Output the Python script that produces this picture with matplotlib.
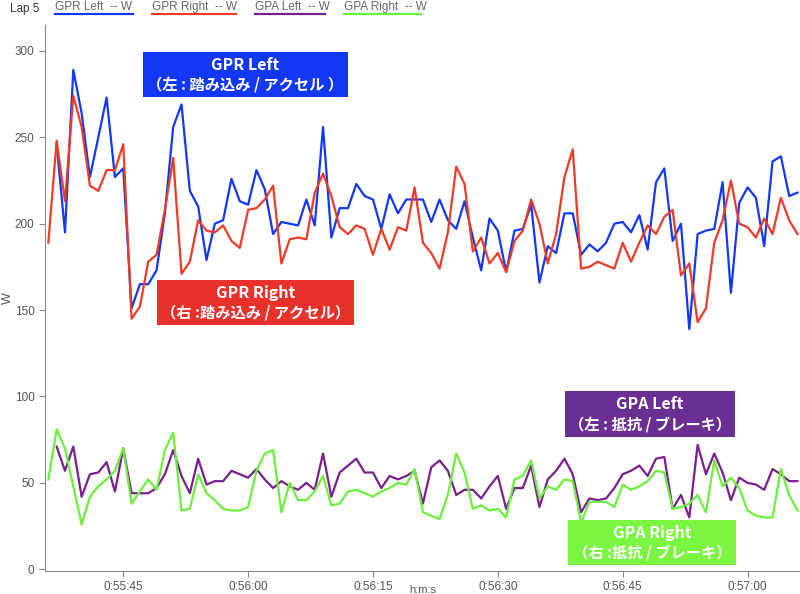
import numpy as np
import matplotlib
matplotlib.use("Agg")
import matplotlib.pyplot as plt
from matplotlib.patches import Rectangle
from matplotlib.lines import Line2D
from matplotlib.ticker import FuncFormatter

plt.rcParams['font.family'] = ['Liberation Sans', 'Noto Sans CJK JP', 'DejaVu Sans']

nan = np.nan
t_start = 55 * 60 + 36  # 0:55:36, one sample per second
gpr_left = [nan, 246, 195, 289, 264, 227, 250, 273, 227, 232,
            151, 165, 165, 173, 206, 256, 269, 219, 210, 179,
            200, 202, 226, 213, 211, 231, 220, 194, 201, 200,
            199, 214, 199, 256, 192, 209, 209, 223, 216, 214,
            197, 217, 206, 214, 214, 214, 201, 214, 202, 197,
            213, 192, 173, 203, 196, 172, 196, 197, 211, 166,
            187, 183, 206, 206, 182, 188, 184, 189, 200, 201,
            195, 205, 185, 224, 232, 190, 200, 139, 194, 196,
            197, 224, 160, 212, 221, 215, 187, 236, 239, 216,
            218]
gpr_right = [189, 248, 213, 274, 256, 222, 219, 231, 231, 246,
             145, 152, 178, 182, 208, 238, 171, 178, 202, 196,
             195, 199, 190, 186, 208, 209, 214, 222, 177, 191,
             192, 191, 218, 229, 216, 198, 194, 199, 197, 182,
             197, 185, 198, 196, 221, 189, 183, 174, 195, 233,
             223, 184, 192, 177, 183, 172, 190, 196, 214, 200,
             177, 194, 227, 243, 174, 175, 178, 176, 174, 189,
             178, 189, 199, 194, 204, 208, 170, 177, 143, 151,
             189, 202, 225, 200, 198, 192, 203, 194, 215, 202,
             194]
gpa_left = [nan, 71, 57, 71, 42, 55, 56, 62, 45, 70,
            44, 44, 44, 47, 55, 69, 54, 44, 64, 49,
            51, 51, 57, 55, 53, 58, 52, 47, 51, 48,
            46, 50, 46, 67, 42, 56, 60, 64, 56, 56,
            47, 54, 52, 54, 57, 38, 59, 63, 57, 43,
            46, 46, 41, 48, 54, 35, 47, 47, 60, 36,
            52, 57, 64, 55, 33, 41, 40, 41, 47, 55,
            57, 60, 54, 64, 65, 35, 43, 30, 72, 55,
            67, 56, 40, 53, 50, 49, 46, 58, 55, 51,
            51]
gpa_right = [52, 81, 70, 48, 26, 42, 48, 52, 57, 70,
             38, 45, 52, 46, 69, 79, 34, 35, 55, 44,
             40, 35, 34, 34, 36, 57, 67, 69, 33, 50,
             40, 40, 45, 54, 37, 38, 45, 46, 44, 42,
             45, 47, 50, 49, 58, 33, 31, 29, 43, 67,
             56, 35, 37, 34, 35, 30, 52, 54, 63, 41,
             48, 46, 52, 51, 27, 39, 39, 39, 36, 49,
             46, 48, 51, 57, 56, 35, 36, 38, 43, 33,
             63, 48, 53, 47, 34, 31, 30, 30, 58, 43,
             34]

names = ['GPR Left  -- W', 'GPR Right  -- W', 'GPA Left  -- W', 'GPA Right  -- W']
colors = ['#1238f5', '#ee3a26', '#7a1f8e', '#6cf03c']
series = [gpr_left, gpr_right, gpa_left, gpa_right]
t = t_start + np.arange(len(gpr_right))

W, H = 800, 594
fig = plt.figure(figsize=(8, 5.94), dpi=100)
ax = fig.add_axes([45 / W, 1 - 571 / H, 755 / W, 546 / H])

for s, c in zip(series, colors):
    ax.plot(t, s, color=c, lw=1.6)

ax.set_xlim(t_start - 0.4, t_start + 90.3)
ax.set_ylim(-1, 315)
ax.set_yticks(range(0, 301, 50))
ax.set_xticks(range(55 * 60 + 45, 57 * 60 + 1, 15))
ax.xaxis.set_major_formatter(FuncFormatter(
    lambda v, p: f"0:{int(v) // 60:02d}:{int(v) % 60:02d}"))
for sp in ['top', 'right']:
    ax.spines[sp].set_visible(False)
for sp in ['left', 'bottom']:
    ax.spines[sp].set_color('#888888')
ax.tick_params(colors='#888888', labelcolor='#555555', labelsize=8.5, length=4)
ax.set_ylabel('W', color='#555555', fontsize=9)
ax.yaxis.set_label_coords(-0.041, 0.5)
ax.set_xlabel('h:m:s', color='#555555', fontsize=8)
ax.xaxis.set_label_coords(0.5, -0.025)


def px(x, y):
    return x / W, 1 - y / H


# legend row
fig.text(*px(10, 9), 'Lap 5', fontsize=8.5, color='#333333', va='center')
leg_x = [(55, 133), (152, 236), (255, 325), (344, 421)]
for (x0, x1), n, c in zip(leg_x, names, colors):
    fig.text(*px(x0, 7), n, fontsize=8.5, color='#666666', va='center')
    fig.add_artist(Line2D([x0 / W, x1 / W], [1 - 14 / H] * 2, color=c, lw=1.6))


# label boxes
def label_box(x0, y0, x1, y1, color, l1, l2):
    fig.add_artist(Rectangle(px(x0, y1), (x1 - x0) / W, (y1 - y0) / H,
                             facecolor=color, edgecolor='none'))
    xc = (x0 + x1) / 2
    fig.text(*px(xc, y0 + 13), l1, color='white', fontsize=11.5, fontweight='bold',
             ha='center', va='center', family=['Noto Sans CJK JP'])
    fig.text(*px(xc, y0 + 33), l2, color='white', fontsize=11, fontweight='bold',
             ha='center', va='center', family=['Noto Sans CJK JP'])


label_box(143, 52, 348, 97, '#1238f5', 'GPR Left', '（左 : 踏み込み / アクセル ）')
label_box(157, 280, 354, 325, '#e8312a', 'GPR Right', '（右 :踏み込み / アクセル）')
label_box(565, 391, 735, 437, '#6a2f93', 'GPA Left', '（左 : 抵抗 / ブレーキ）')
label_box(568, 520, 736, 565, '#7cf542', 'GPA Right', '（右 :抵抗 / ブレーキ）')

fig.savefig('out.png', dpi=100)
